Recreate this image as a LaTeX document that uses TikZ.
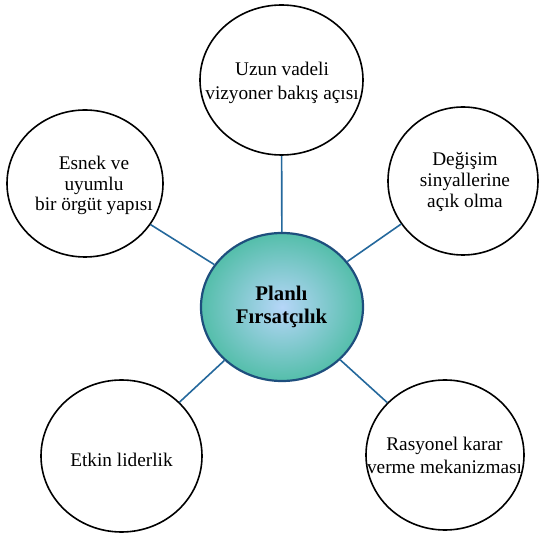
\documentclass[tikz,border=0pt]{standalone}
\usepackage{fontspec}
\setmainfont{Liberation Serif}
\usetikzlibrary{shapes.geometric}
\definecolor{connblue}{RGB}{36,104,156}
\definecolor{hubborder}{RGB}{30,78,125}
\definecolor{hubin}{RGB}{182,214,248}
\definecolor{hubout}{RGB}{84,190,170}
\begin{document}
\begin{tikzpicture}[x=1pt,y=-1pt,
  bubble/.style={ellipse, draw=black, line width=1.6pt, inner sep=0pt, fill=white},
  hub/.style={ellipse, draw=hubborder, line width=2.2pt, inner sep=0pt, inner color=hubin, outer color=hubout},
  lbl/.style={align=center, inner sep=0pt, font=\fontsize{19.3}{20.5}\selectfont},
  hubtext/.style={align=center, inner sep=0pt, font=\bfseries\fontsize{20.8}{23}\selectfont},
  conn/.style={draw=connblue, line width=1.6pt}]
\useasboundingbox (0,0) rectangle (539,534);
% shapes
\node[hub, minimum width=162pt, minimum height=148pt] (hub) at (282,307) {};
\node[bubble, minimum width=163pt, minimum height=150pt] (top) at (281.5,80) {};
\node[bubble, minimum width=156pt, minimum height=147pt] (esnek) at (85,183.5) {};
\node[bubble, minimum width=150pt, minimum height=148pt] (degisim) at (463,181) {};
\node[bubble, minimum width=161pt, minimum height=152pt] (etkin) at (121.5,456) {};
\node[bubble, minimum width=158pt, minimum height=150pt] (rasyonel) at (445,455) {};
% connectors
\draw[conn] (hub) -- (top);
\draw[conn] (hub) -- (esnek);
\draw[conn] (hub) -- (degisim);
\draw[conn] (hub) -- (etkin);
\draw[conn] (hub) -- (rasyonel);
% texts
\node[hubtext] (hubt) at (281.5,306.5) {Planlı\\Fırsatçılık};
\node[lbl, font=\fontsize{19.3}{24}\selectfont] (topt) at (282,82.5) {Uzun vadeli\\vizyoner bakış açısı};
\node[lbl] (esnekt) at (94,185.5) {Esnek ve\\uyumlu\\bir örgüt yapısı};
\node[lbl, font=\fontsize{19.3}{21}\selectfont] (degisimt) at (465,181.5) {Değişim\\sinyallerine\\açık olma};
\node[lbl] (etkint) at (121.5,459.5) {Etkin liderlik};
\node[lbl, font=\fontsize{19.3}{23}\selectfont] (rasyonelt) at (444.5,455) {Rasyonel karar\\verme mekanizması};
\end{tikzpicture}
\end{document}
